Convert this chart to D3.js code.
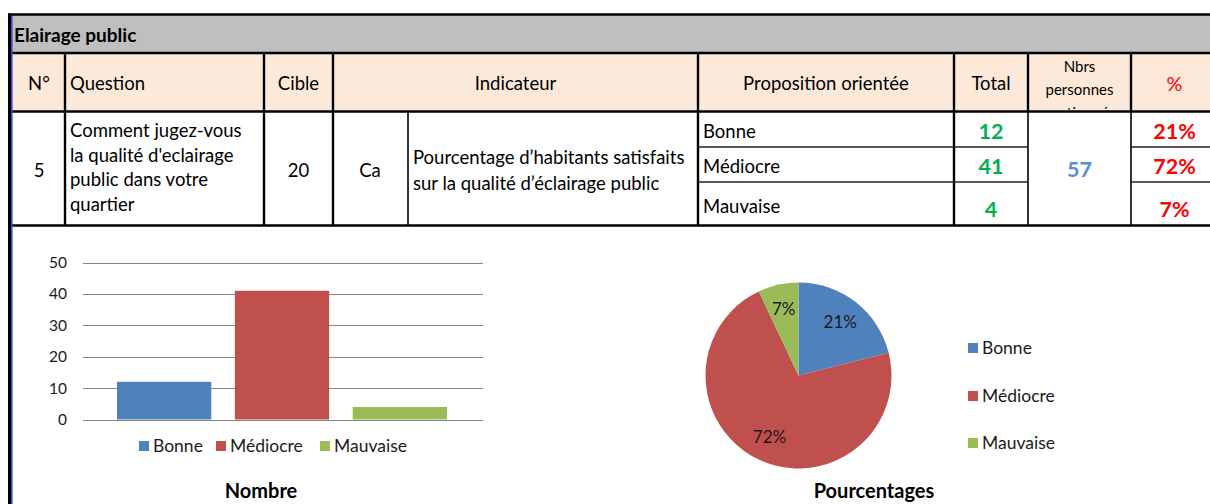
<!DOCTYPE html>
<html>
<head>
<meta charset="utf-8">
<script src="https://cdn.jsdelivr.net/npm/d3@7"></script>
<style>
  html, body { margin: 0; padding: 0; background: #ffffff; }
  svg { display: block; font-family: Lato, "Noto Sans", sans-serif; }
</style>
</head>
<body>
<svg id="sheet" width="1210" height="504"></svg>
<script>
// ---- survey data: public lighting question ----
const sectionTitle = "Elairage public";
const headers = ["N°", "Question", "Cible", "Indicateur", "Proposition orientée", "Total", "%"];
const respondentsHeader = ["Nbrs", "personnes", "questionnées"];
const questionNo = "5";
const questionLines = ["Comment jugez-vous", "la qualité d'eclairage", "public dans votre", "quartier"];
const target = "20";
const indicatorCode = "Ca";
const indicatorLines = ["Pourcentage d’habitants satisfaits", "sur la qualité d’éclairage public"];
const categories = ["Bonne", "Médiocre", "Mauvaise"];
const totals = [12, 41, 4];
const respondents = 57;
const yTicks = [0, 10, 20, 30, 40, 50];
const seriesColors = ["#4f81bd", "#c0504d", "#9bbb59"];
const barTitle = "Nombre";
const pieTitle = "Pourcentages";

const pct = v => Math.round(v / d3.sum(totals) * 100) + "%";

const svg = d3.select("#sheet");

// ---- spreadsheet table ----
const T = { left: 11, right: 1210, top: 14.5, titleBottom: 53, headBottom: 111.5, bottom: 225.5 };
const cols = [11, 65, 264, 333, 698, 954, 1028, 1131, 1222];
const subRows = [111.5, 147, 182, 225.5];
const BODY = 18.5, NUM = 21.5, BOLD_TITLE = 19;

svg.append("rect").attr("x", T.left).attr("y", T.top).attr("width", T.right - T.left)
  .attr("height", T.titleBottom - T.top).attr("fill", "#bfbfbf");
svg.append("rect").attr("x", T.left).attr("y", T.titleBottom).attr("width", T.right - T.left)
  .attr("height", T.headBottom - T.titleBottom).attr("fill", "#fde9d9");

const grid = svg.append("g").attr("stroke", "#000");
[T.top, T.titleBottom, T.headBottom, T.bottom].forEach(y => {
  grid.append("line").attr("x1", 8).attr("x2", T.right).attr("y1", y).attr("y2", y).attr("stroke-width", 2.6);
});
cols.slice(1, -1).forEach((x, i) => {
  grid.append("line").attr("x1", x).attr("x2", x).attr("y1", T.titleBottom).attr("y2", T.headBottom)
    .attr("stroke-width", 2.4);
  grid.append("line").attr("x1", x).attr("x2", x).attr("y1", T.headBottom).attr("y2", T.bottom)
    .attr("stroke-width", i >= 5 ? 1.6 : 2.4);
});
// indicator split and answer sub-rows
grid.append("line").attr("x1", 408).attr("x2", 408).attr("y1", T.headBottom).attr("y2", T.bottom).attr("stroke-width", 1.6);
[[698, 1028], [1131, 1222]].forEach(([a, b]) => {
  subRows.slice(1, -1).forEach(y => {
    grid.append("line").attr("x1", a).attr("x2", b).attr("y1", y).attr("y2", y)
      .attr("stroke", "#222").attr("stroke-width", 1.4);
  });
});
// sheet left edge
svg.append("rect").attr("x", 8).attr("y", 13.5).attr("width", 3).attr("height", 504).attr("fill", "#000");
svg.append("rect").attr("x", 11).attr("y", 16).attr("width", 1.6).attr("height", 504).attr("fill", "#3f48cc");

const txt = (x, y, s, opts = {}) => svg.append("text").attr("x", x).attr("y", y).text(s)
  .attr("text-anchor", opts.anchor || "start")
  .attr("font-size", opts.size || BODY)
  .attr("font-weight", opts.weight || "normal")
  .attr("fill", opts.fill || "#000");

txt(14, 42, sectionTitle, { weight: "bold", size: BOLD_TITLE });

const mid = i => (cols[i] + cols[i + 1]) / 2;
txt(mid(0) + 1, 90, headers[0], { anchor: "middle" });
txt(70, 90, headers[1]);
txt(mid(2), 90, headers[2], { anchor: "middle" });
txt(mid(3), 90, headers[3], { anchor: "middle" });
txt(mid(4), 90, headers[4], { anchor: "middle" });
txt(mid(5), 90, headers[5], { anchor: "middle" });
txt(mid(7) - 2, 91, headers[6], { anchor: "middle", fill: "#ff0000", size: 20 });

svg.append("clipPath").attr("id", "hdrClip").append("rect")
  .attr("x", cols[6]).attr("y", T.titleBottom).attr("width", cols[7] - cols[6]).attr("height", T.headBottom - T.titleBottom - 1.5);
const hdr = svg.append("g").attr("clip-path", "url(#hdrClip)");
respondentsHeader.forEach((s, i) => {
  hdr.append("text").attr("x", mid(6)).attr("y", 72 + i * 23).attr("text-anchor", "middle")
    .attr("font-size", 15).text(s);
});

// data row
txt(mid(0) + 1, 177, questionNo, { anchor: "middle" });
questionLines.forEach((s, i) => txt(70, 137 + i * 24.5, s));
txt(mid(2), 177, target, { anchor: "middle" });
txt(370, 177, indicatorCode, { anchor: "middle" });
indicatorLines.forEach((s, i) => txt(413, 164 + i * 25.5, s));

const answerBase = [138, 173, 213];
const numBase = [139, 174, 217];
categories.forEach((c, i) => {
  txt(703, answerBase[i], c);
  txt(mid(5), numBase[i], totals[i], { anchor: "middle", weight: "bold", fill: "#00b050", size: NUM });
  txt(mid(7) - 2, numBase[i], pct(totals[i]), { anchor: "middle", weight: "bold", fill: "#ff0000", size: NUM });
});
txt(mid(6), 177, respondents, { anchor: "middle", weight: "bold", fill: "#558ed5", size: NUM });

// ---- bar chart: counts ----
const y = d3.scaleLinear().domain([0, 50]).range([419.5, 262.5]);
const x = d3.scaleBand().domain(categories).range([117, 447]).paddingInner(0.2);
const plotLeft = 83, plotRight = 483;

const bar = svg.append("g");
bar.append("g").selectAll("line").data(yTicks).join("line")
  .attr("x1", plotLeft).attr("x2", plotRight)
  .attr("y1", d => Math.round(y(d)) + 0.5).attr("y2", d => Math.round(y(d)) + 0.5)
  .attr("stroke", "#868686").attr("stroke-width", 1);
bar.append("g").selectAll("text").data(yTicks).join("text")
  .attr("x", 67).attr("y", d => y(d)).attr("dy", "0.36em").attr("text-anchor", "end")
  .attr("font-size", 15.5).attr("fill", "#1a1a1a").text(d => d);
bar.append("g").selectAll("rect").data(categories).join("rect")
  .attr("x", d => x(d)).attr("width", x.bandwidth())
  .attr("y", (d, i) => y(totals[i])).attr("height", (d, i) => y(0) - y(totals[i]))
  .attr("fill", (d, i) => seriesColors[i]);

const barLegendX = [139, 216, 320];
const bl = bar.append("g").selectAll("g").data(categories).join("g")
  .attr("transform", (d, i) => `translate(${barLegendX[i]},446)`);
bl.append("rect").attr("x", 0).attr("y", -5).attr("width", 10).attr("height", 10)
  .attr("fill", (d, i) => seriesColors[i]);
bl.append("text").attr("x", 14).attr("dy", "0.36em").attr("font-size", 17.5).attr("fill", "#1a1a1a").text(d => d);
txt(261, 498, barTitle, { anchor: "middle", weight: "bold", size: 20 });

// ---- pie chart: shares ----
const cx = 798.5, cy = 375.5, r = 93;
const pie = d3.pie().sort(null).value(d => d)(totals);
const arc = d3.arc().innerRadius(0).outerRadius(r);
const labelArc = d3.arc().innerRadius(r * 0.73).outerRadius(r * 0.73);
const pg = svg.append("g").attr("transform", `translate(${cx},${cy})`);
pg.selectAll("path").data(pie).join("path")
  .attr("d", arc).attr("fill", (d, i) => seriesColors[i]);
pg.selectAll("text").data(pie).join("text")
  .attr("transform", d => `translate(${labelArc.centroid(d)})`)
  .attr("text-anchor", "middle").attr("dy", "0.36em").attr("font-size", 17).attr("fill", "#1a1a1a")
  .text(d => pct(d.data));

const pieLegendY = [348, 396, 443];
const pl = svg.append("g").selectAll("g").data(categories).join("g")
  .attr("transform", (d, i) => `translate(968,${pieLegendY[i]})`);
pl.append("rect").attr("x", 0).attr("y", -5).attr("width", 10).attr("height", 10)
  .attr("fill", (d, i) => seriesColors[i]);
pl.append("text").attr("x", 14).attr("dy", "0.36em").attr("font-size", 17.5).attr("fill", "#1a1a1a").text(d => d);
txt(874, 498, pieTitle, { anchor: "middle", weight: "bold", size: 20 });
</script>
</body>
</html>
